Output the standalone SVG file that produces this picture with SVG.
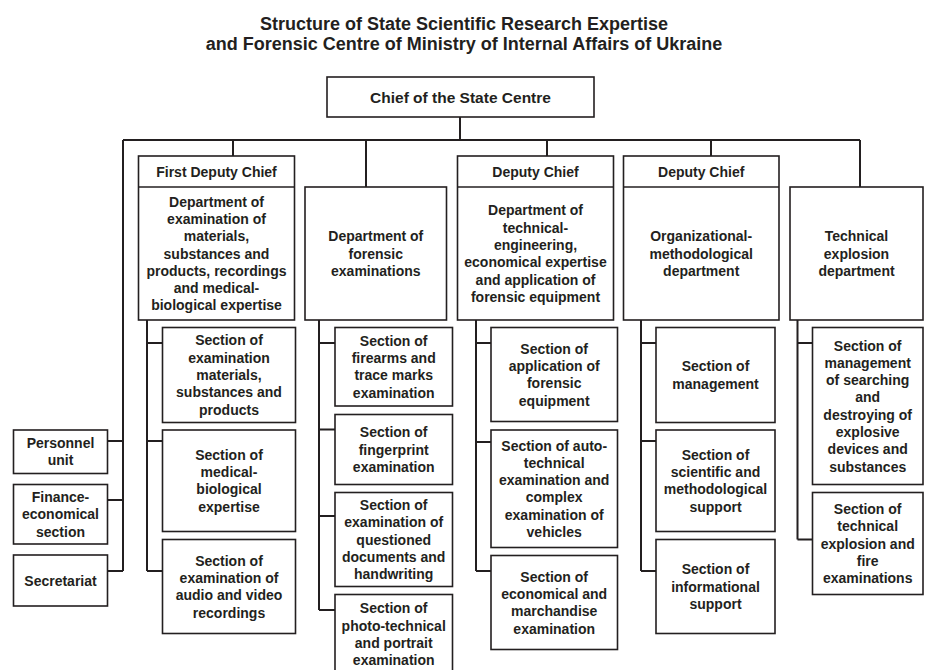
<svg xmlns="http://www.w3.org/2000/svg" width="926" height="670" viewBox="0 0 926 670">
<style>
  .bx { fill: #ffffff; stroke: #231f20; stroke-width: 1.6; }
  .cn { fill: none; stroke: #231f20; stroke-width: 2; }
  .t { font-family: "Liberation Sans", Arial, sans-serif; font-weight: bold; font-size: 14px; fill: #231f20; text-anchor: middle; }
  .ttl { font-family: "Liberation Sans", Arial, sans-serif; font-weight: bold; font-size: 18px; fill: #231f20; text-anchor: middle; }
</style>
<rect width="926" height="670" fill="#ffffff"/>
<g id="title">
  <text class="ttl" x="464" y="30">Structure of State Scientific Research Expertise</text>
  <text class="ttl" x="464" y="50">and Forensic Centre of Ministry of Internal Affairs of Ukraine</text>
</g>
<g id="connectors">
  <path class="cn" d="M460,117 V140 M123,140 H860 M233,140 V156 M366,140 V187 M547,140 V156 M711,140 V156 M860,140 V187 M123,140 V571"/>
  <path class="cn" d="M107.5,441 H123 M107.5,500 H123 M107.5,571 H123"/>
  <path class="cn" d="M147,320 V571 M147,343 H162.5 M147,441 H162.5 M147,571 H162.5"/>
  <path class="cn" d="M319,320 V610 M319,343 H335 M319,429.5 H335 M319,516 H335 M319,610 H335"/>
  <path class="cn" d="M476,320 V571 M476,343 H491 M476,442 H491 M476,571 H491"/>
  <path class="cn" d="M641,320 V571 M641,343 H656 M641,441 H656 M641,571 H656"/>
  <path class="cn" d="M797.5,320 V539.5 M797.5,343 H812.5 M797.5,539.5 H812.5"/>
</g>
<g id="chief">
  <rect class="bx" x="327" y="77" width="267" height="40"/>
  <text class="t" x="460.5" y="102.5" style="font-size:15.5px">Chief of the State Centre</text>
</g>
<g id="first-deputy">
  <rect class="bx" x="138.5" y="156" width="156" height="164"/>
  <line class="bx" x1="138.5" y1="187" x2="294.5" y2="187"/>
  <text class="t" x="216.5" y="176.5">First Deputy Chief</text>
  <text class="t" x="216.5" y="206.6"><tspan x="216.5">Department of</tspan><tspan x="216.5" dy="17.3">examination of</tspan><tspan x="216.5" dy="17.3">materials,</tspan><tspan x="216.5" dy="17.3">substances and</tspan><tspan x="216.5" dy="17.3">products, recordings</tspan><tspan x="216.5" dy="17.3">and medical-</tspan><tspan x="216.5" dy="17.3">biological expertise</tspan></text>
</g>
<g id="dept-forensic">
  <rect class="bx" x="305" y="187" width="141.5" height="133"/>
  <text class="t" x="375.8" y="241.2"><tspan x="375.8">Department of</tspan><tspan x="375.8" dy="17.3">forensic</tspan><tspan x="375.8" dy="17.3">examinations</tspan></text>
</g>
<g id="deputy-1">
  <rect class="bx" x="457.5" y="156" width="156" height="164"/>
  <line class="bx" x1="457.5" y1="187" x2="613.5" y2="187"/>
  <text class="t" x="535.5" y="176.5">Deputy Chief</text>
  <text class="t" x="535.5" y="215.3"><tspan x="535.5">Department of</tspan><tspan x="535.5" dy="17.3">technical-</tspan><tspan x="535.5" dy="17.3">engineering,</tspan><tspan x="535.5" dy="17.3">economical expertise</tspan><tspan x="535.5" dy="17.3">and application of</tspan><tspan x="535.5" dy="17.3">forensic equipment</tspan></text>
</g>
<g id="deputy-2">
  <rect class="bx" x="623.5" y="156" width="155.5" height="164"/>
  <line class="bx" x1="623.5" y1="187" x2="779" y2="187"/>
  <text class="t" x="701.2" y="176.5">Deputy Chief</text>
  <text class="t" x="701.2" y="241.2"><tspan x="701.2">Organizational-</tspan><tspan x="701.2" dy="17.3">methodological</tspan><tspan x="701.2" dy="17.3">department</tspan></text>
</g>
<g id="tech-explosion">
  <rect class="bx" x="790" y="187" width="133" height="133"/>
  <text class="t" x="856.5" y="241.2"><tspan x="856.5">Technical</tspan><tspan x="856.5" dy="17.3">explosion</tspan><tspan x="856.5" dy="17.3">department</tspan></text>
</g>
<g id="personnel">
  <rect class="bx" x="13.5" y="430" width="94" height="43.5"/>
  <text class="t" x="60.5" y="448"><tspan x="60.5">Personnel</tspan><tspan x="60.5" dy="17.3">unit</tspan></text>
</g>
<g id="finance">
  <rect class="bx" x="13.5" y="484.5" width="94" height="59.5"/>
  <text class="t" x="60.5" y="501.9"><tspan x="60.5">Finance-</tspan><tspan x="60.5" dy="17.3">economical</tspan><tspan x="60.5" dy="17.3">section</tspan></text>
</g>
<g id="secretariat">
  <rect class="bx" x="13.5" y="555" width="94" height="51"/>
  <text class="t" x="60.5" y="585.5">Secretariat</text>
</g>
<g id="s1-1">
  <rect class="bx" x="162.5" y="327.5" width="133" height="95"/>
  <text class="t" x="229" y="345.4"><tspan x="229">Section of</tspan><tspan x="229" dy="17.3">examination</tspan><tspan x="229" dy="17.3">materials,</tspan><tspan x="229" dy="17.3">substances and</tspan><tspan x="229" dy="17.3">products</tspan></text>
</g>
<g id="s1-2">
  <rect class="bx" x="162.5" y="430" width="133" height="101.5"/>
  <text class="t" x="229" y="459.8"><tspan x="229">Section of</tspan><tspan x="229" dy="17.3">medical-</tspan><tspan x="229" dy="17.3">biological</tspan><tspan x="229" dy="17.3">expertise</tspan></text>
</g>
<g id="s1-3">
  <rect class="bx" x="162.5" y="539.5" width="133" height="94"/>
  <text class="t" x="229" y="565.6"><tspan x="229">Section of</tspan><tspan x="229" dy="17.3">examination of</tspan><tspan x="229" dy="17.3">audio and video</tspan><tspan x="229" dy="17.3">recordings</tspan></text>
</g>
<g id="s2-1">
  <rect class="bx" x="335" y="327.5" width="117.5" height="78.5"/>
  <text class="t" x="393.7" y="345.8"><tspan x="393.7">Section of</tspan><tspan x="393.7" dy="17.3">firearms and</tspan><tspan x="393.7" dy="17.3">trace marks</tspan><tspan x="393.7" dy="17.3">examination</tspan></text>
</g>
<g id="s2-2">
  <rect class="bx" x="335" y="414.5" width="117.5" height="70"/>
  <text class="t" x="393.7" y="437.2"><tspan x="393.7">Section of</tspan><tspan x="393.7" dy="17.3">fingerprint</tspan><tspan x="393.7" dy="17.3">examination</tspan></text>
</g>
<g id="s2-3">
  <rect class="bx" x="335" y="492.5" width="117.5" height="94"/>
  <text class="t" x="393.7" y="509.9"><tspan x="393.7">Section of</tspan><tspan x="393.7" dy="17.3">examination of</tspan><tspan x="393.7" dy="17.3">questioned</tspan><tspan x="393.7" dy="17.3">documents and</tspan><tspan x="393.7" dy="17.3">handwriting</tspan></text>
</g>
<g id="s2-4">
  <rect class="bx" x="335" y="594.5" width="117.5" height="80"/>
  <text class="t" x="393.7" y="613.3"><tspan x="393.7">Section of</tspan><tspan x="393.7" dy="17.3">photo-technical</tspan><tspan x="393.7" dy="17.3">and portrait</tspan><tspan x="393.7" dy="17.3">examination</tspan></text>
</g>
<g id="s3-1">
  <rect class="bx" x="491" y="327.5" width="126.5" height="94"/>
  <text class="t" x="554.2" y="353.6"><tspan x="554.2">Section of</tspan><tspan x="554.2" dy="17.3">application of</tspan><tspan x="554.2" dy="17.3">forensic</tspan><tspan x="554.2" dy="17.3">equipment</tspan></text>
</g>
<g id="s3-2">
  <rect class="bx" x="491" y="430" width="126.5" height="117.5"/>
  <text class="t" x="554.2" y="450.5"><tspan x="554.2">Section of auto-</tspan><tspan x="554.2" dy="17.3">technical</tspan><tspan x="554.2" dy="17.3">examination and</tspan><tspan x="554.2" dy="17.3">complex</tspan><tspan x="554.2" dy="17.3">examination of</tspan><tspan x="554.2" dy="17.3">vehicles</tspan></text>
</g>
<g id="s3-3">
  <rect class="bx" x="491" y="555.5" width="126.5" height="94"/>
  <text class="t" x="554.2" y="581.6"><tspan x="554.2">Section of</tspan><tspan x="554.2" dy="17.3">economical and</tspan><tspan x="554.2" dy="17.3">marchandise</tspan><tspan x="554.2" dy="17.3">examination</tspan></text>
</g>
<g id="s4-1">
  <rect class="bx" x="656" y="327.5" width="119" height="95"/>
  <text class="t" x="715.5" y="371.4"><tspan x="715.5">Section of</tspan><tspan x="715.5" dy="17.3">management</tspan></text>
</g>
<g id="s4-2">
  <rect class="bx" x="656" y="430" width="119" height="101.5"/>
  <text class="t" x="715.5" y="459.8"><tspan x="715.5">Section of</tspan><tspan x="715.5" dy="17.3">scientific and</tspan><tspan x="715.5" dy="17.3">methodological</tspan><tspan x="715.5" dy="17.3">support</tspan></text>
</g>
<g id="s4-3">
  <rect class="bx" x="656" y="539.5" width="119" height="94"/>
  <text class="t" x="715.5" y="574.2"><tspan x="715.5">Section of</tspan><tspan x="715.5" dy="17.3">informational</tspan><tspan x="715.5" dy="17.3">support</tspan></text>
</g>
<g id="s5-1">
  <rect class="bx" x="812.5" y="327.5" width="110.5" height="157"/>
  <text class="t" x="867.7" y="350.5"><tspan x="867.7">Section of</tspan><tspan x="867.7" dy="17.3">management</tspan><tspan x="867.7" dy="17.3">of searching</tspan><tspan x="867.7" dy="17.3">and</tspan><tspan x="867.7" dy="17.3">destroying of</tspan><tspan x="867.7" dy="17.3">explosive</tspan><tspan x="867.7" dy="17.3">devices and</tspan><tspan x="867.7" dy="17.3">substances</tspan></text>
</g>
<g id="s5-2">
  <rect class="bx" x="812.5" y="492.5" width="110.5" height="102"/>
  <text class="t" x="867.7" y="513.9"><tspan x="867.7">Section of</tspan><tspan x="867.7" dy="17.3">technical</tspan><tspan x="867.7" dy="17.3">explosion and</tspan><tspan x="867.7" dy="17.3">fire</tspan><tspan x="867.7" dy="17.3">examinations</tspan></text>
</g>
</svg>
